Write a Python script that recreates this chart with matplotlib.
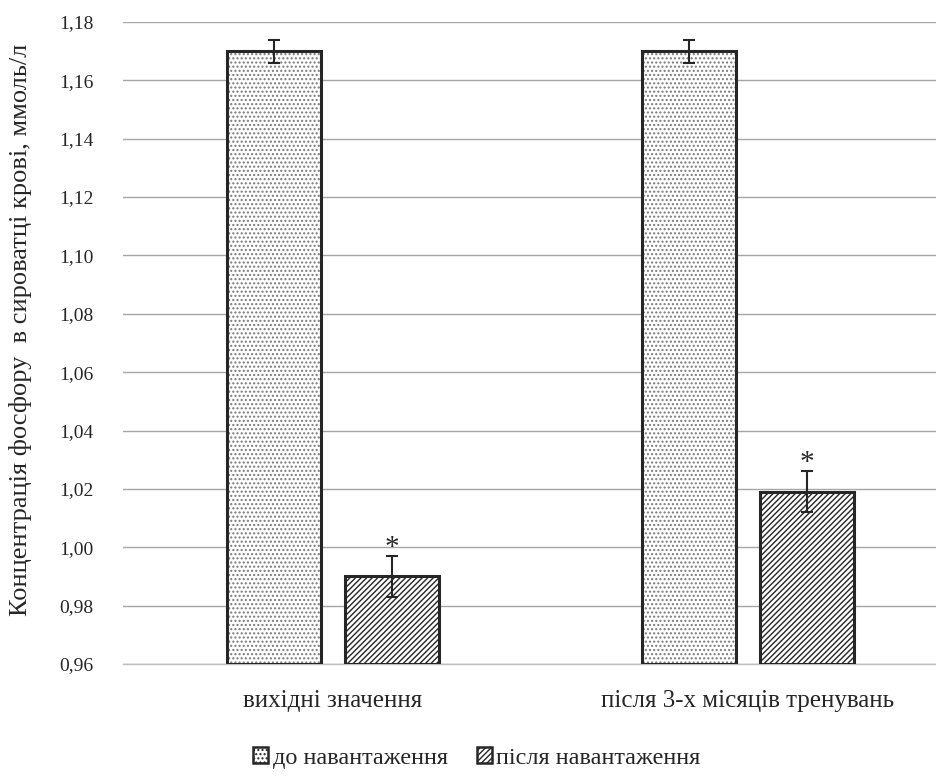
import matplotlib
matplotlib.use("Agg")
import matplotlib.pyplot as plt
from matplotlib.patches import Patch
import numpy as np

plt.rcParams['font.family'] = ['Liberation Serif', 'DejaVu Serif']
plt.rcParams['hatch.linewidth'] = 1.0

categories = ["вихідні значення", "після 3-х місяців тренувань"]
series_names = ["до навантаження", "після навантаження"]
before_load = [1.170, 1.170]
before_err = [0.004, 0.004]
after_load = [0.990, 1.019]
after_err = [0.007, 0.007]
significant_after = [True, True]
y_ticks = [0.96, 0.98, 1.00, 1.02, 1.04, 1.06, 1.08, 1.10, 1.12, 1.14, 1.16, 1.18]

W, H = 937, 776
fig = plt.figure(figsize=(W / 100, H / 100), dpi=100)
ax_left, ax_right, ax_top, ax_bottom = 123, 953, 22, 664
ax = fig.add_axes([ax_left / W, 1 - ax_bottom / H,
                   (ax_right - ax_left) / W, (ax_bottom - ax_top) / H])

x = np.arange(len(categories))
offset = 0.143
width = 0.226
edge = '#262626'
text_col = '#262626'

# dotted bars: hatch layer first, outline on top
ax.bar(x - offset, [v - 0.96 for v in before_load], width, bottom=0.96,
       color='white', edgecolor='#7a7a7a', hatch='....', linewidth=0, zorder=2)
ax.bar(x - offset, [v - 0.96 for v in before_load], width, bottom=0.96,
       fill=False, edgecolor=edge, linewidth=2.2, zorder=3)
# diagonal hatched bars
ax.bar(x + offset, [v - 0.96 for v in after_load], width, bottom=0.96,
       color='white', edgecolor=edge, hatch='//////', linewidth=0, zorder=2)
ax.bar(x + offset, [v - 0.96 for v in after_load], width, bottom=0.96,
       fill=False, edgecolor=edge, linewidth=2.2, zorder=3)

ax.errorbar(x - offset, before_load, yerr=before_err, fmt='none',
            ecolor=edge, elinewidth=1.5, capsize=4, capthick=1.5, zorder=4)
ax.errorbar(x + offset, after_load, yerr=after_err, fmt='none',
            ecolor=edge, elinewidth=1.5, capsize=4, capthick=1.5, zorder=4)

for xi, v, e, sig in zip(x + offset, after_load, after_err, significant_after):
    if sig:
        ax.text(xi, v + e + 0.0028, '*', ha='center', va='center',
                fontsize=21, color=edge, zorder=5)

ax.set_ylim(0.96, 1.18)
ax.set_xlim(-0.506, 1.494)
ax.set_yticks(y_ticks)
ax.set_yticklabels([f"{t:.2f}".replace('.', ',') for t in y_ticks],
                   fontsize=14, color=text_col)
ax.set_xticks(x)
ax.set_xticklabels(categories, fontsize=18, color=text_col)
ax.tick_params(axis='both', length=0)
ax.tick_params(axis='y', pad=21)
ax.tick_params(axis='x', pad=19)
ax.grid(axis='y', color='#a6a6a6', linewidth=1.0, zorder=0)
ax.set_axisbelow(True)
for s in ['top', 'right', 'left']:
    ax.spines[s].set_visible(False)
ax.spines['bottom'].set_color('#bfbfbf')
ax.spines['bottom'].set_linewidth(1.0)

fig.text(21 / W, 1 - 330 / H, "Концентрація фосфору  в сироватці крові, ммоль/л",
         rotation=90, ha='center', va='center', fontsize=19, color=text_col)

handles = [
    Patch(facecolor='white', edgecolor=edge, hatch='....', linewidth=1.8),
    Patch(facecolor='white', edgecolor=edge, hatch='//////', linewidth=1.8),
]
fig.legend(handles, series_names, loc='center', bbox_to_anchor=(477 / W, 1 - 758 / H),
           ncol=2, frameon=False, fontsize=17.5, handlelength=0.6, handleheight=0.6,
           handletextpad=0.2, columnspacing=1.2, labelcolor=text_col,
           borderpad=0, borderaxespad=0)

fig.savefig("out.png", dpi=100)
